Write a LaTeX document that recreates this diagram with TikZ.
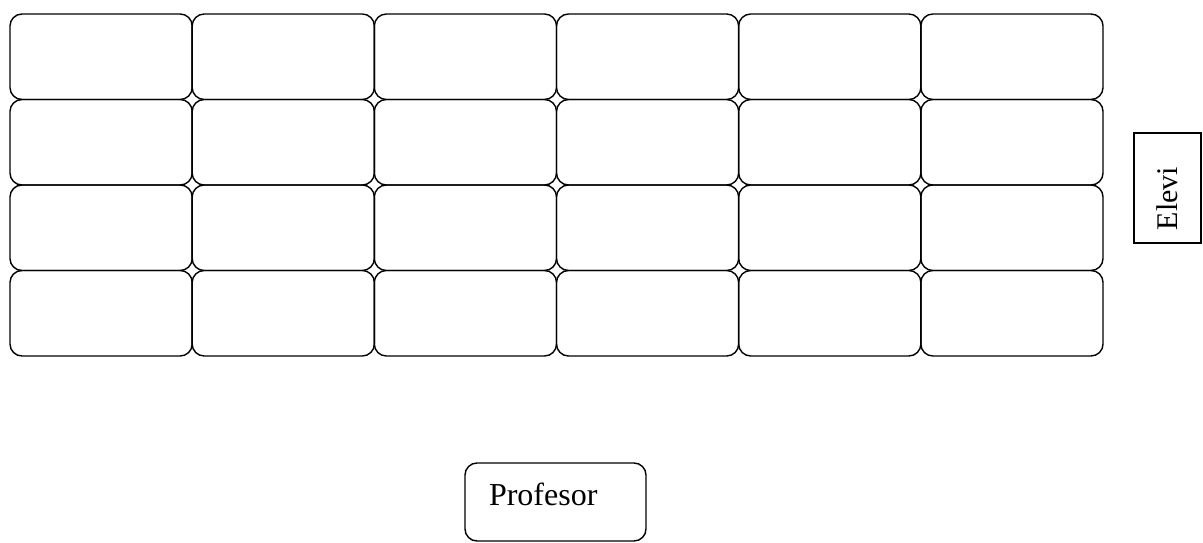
\documentclass[tikz,border=0pt]{standalone}
\usepackage{fontspec}
\setmainfont{Liberation Serif}
\tikzset{
  cell/.style={draw, line width=1.4pt, rounded corners=12pt, minimum width=182.2pt, minimum height=85.5pt, inner sep=0pt, outer sep=0pt},
  elevibox/.style={draw, line width=1.4pt, rotate=90, minimum width=110pt, minimum height=67pt, text width=84pt, align=left, inner xsep=13pt, inner ysep=0pt, font=\fontsize{30}{34}\selectfont},
  profbox/.style={draw, line width=1.4pt, rounded corners=12pt, minimum width=181pt, minimum height=78pt, text width=133pt, align=left, inner xsep=24pt, inner ysep=0pt, text height=20pt, text depth=14pt, font=\fontsize{32}{36}\selectfont}
}
\begin{document}
\begin{tikzpicture}[x=1pt,y=-1pt]
\useasboundingbox (0,0) rectangle (1203,543);
\fill[white] (0,0) rectangle (1203,543);
\foreach \r in {1,...,4}{
  \foreach \c in {1,...,6}{
    \node[cell] (c-\r-\c) at ({10+(\c-0.5)*182.17},{14+(\r-0.5)*85.5}) {};
  }
}
\node[elevibox] (elevi) at (1167.5,188) {Elevi};
\node[profbox] (prof) at (555.5,502) {Profesor};
\end{tikzpicture}
\end{document}
